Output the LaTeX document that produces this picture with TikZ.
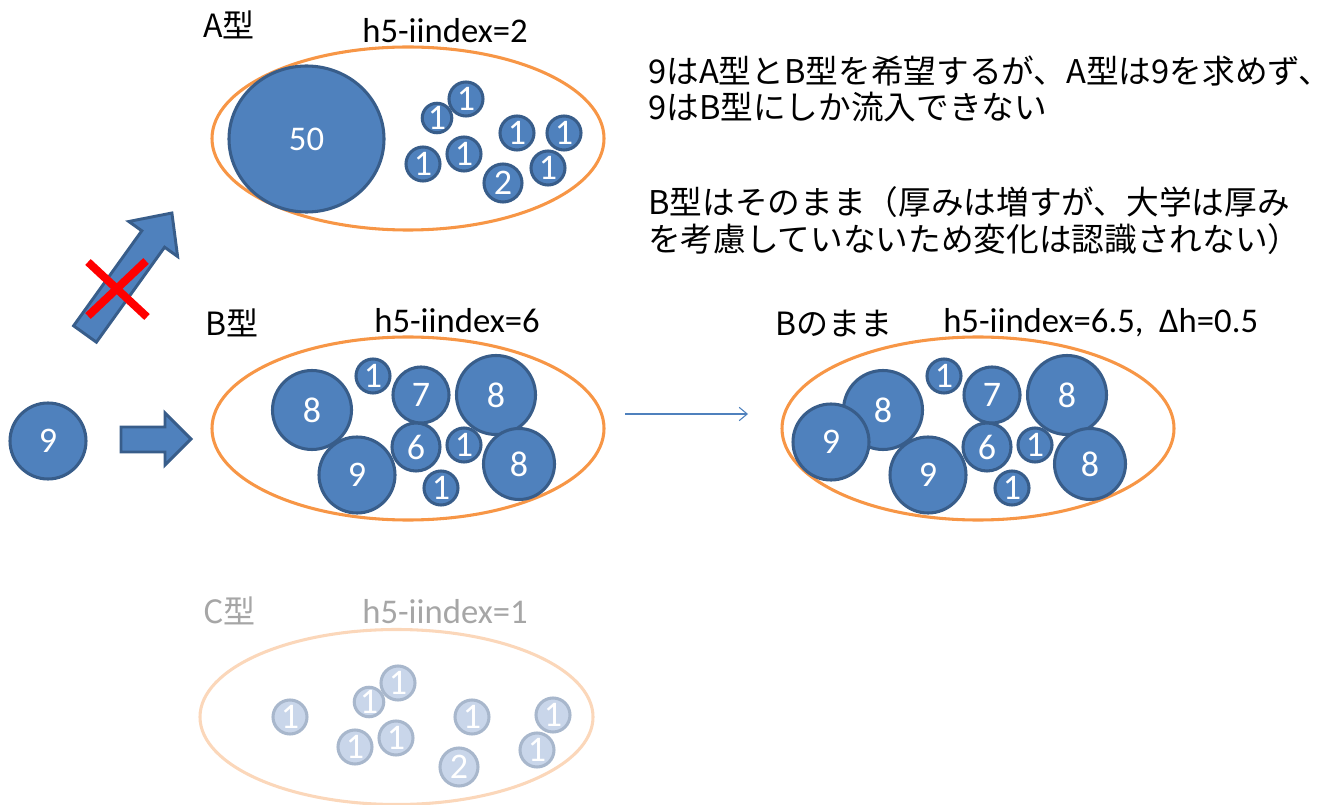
\documentclass[tikz,border=0pt]{standalone}
\usepackage{fontspec}
\setmainfont{Carlito}
\newfontfamily\jpf{Noto Sans CJK JP}
\usetikzlibrary{shapes.geometric,arrows.meta}
\definecolor{bf}{HTML}{4F81BD}
\definecolor{bd}{HTML}{385D8A}
\definecolor{org}{HTML}{F79646}
\definecolor{cf}{HTML}{C9D6EA}
\definecolor{cd}{HTML}{A8B7CC}
\definecolor{corg}{HTML}{FBD7BA}
\definecolor{gtx}{HTML}{A6A6A6}
\begin{document}
\begin{tikzpicture}[x=0.75pt,y=-0.75pt,
  ball/.style={circle,draw=bd,fill=bf,line width=2.3pt,text=white,inner sep=0pt,
    font=\fontsize{27}{27}\selectfont,minimum size=#1*1.5pt},
  fball/.style={ball=#1,draw=cd,fill=cf},
  group/.style={ellipse,draw=org,line width=2.3pt,minimum width=392*0.75pt,minimum height=183*0.75pt},
  lbl/.style={anchor=base west,inner sep=0pt,font=\jpf\fontsize{24}{24}\selectfont},
  hidx/.style={anchor=base,inner sep=0pt,font=\fontsize{26}{26}\selectfont},
  note/.style={anchor=base west,inner sep=0pt,font=\jpf\fontsize{24.5}{24.5}\selectfont},
  blockarrow/.style={fill=bf,draw=bd,line width=2.2pt,line join=miter},
  cross/.style={draw=red,line width=6pt}
]
\useasboundingbox (0,0) rectangle (1341,805);

% ---------- A ----------
\node[group] (A) at (408,138.5) {};
\node[lbl] (tA) at (203,38) {A型};
\node[hidx] (hA) at (445,43) {h5-iindex=2};
\node[ellipse,draw=bd,fill=bf,line width=2.3pt,text=white,inner sep=0pt,
  minimum width=155*0.75pt,minimum height=146*0.75pt,font=\fontsize{26}{26}\selectfont] (a50) at (306.5,139) {50};
\node[ball=17] (a1) at (466,99) {1};
\node[ball=14] (a2) at (437,118) {1};
\node[ball=17] (a3) at (517,133) {1};
\node[ball=17] (a4) at (564,133) {1};
\node[ball=17] (a5) at (423,164) {1};
\node[ball=17] (a6) at (464,154) {1};
\node[ball=19] (a7) at (503,183) {2};
\node[ball=17] (a8) at (548,168) {1};

% ---------- B ----------
\node[group] (B) at (408,428.5) {};
\node[lbl] (tB) at (205,335) {B型};
\node[hidx] (hB) at (457,333) {h5-iindex=6};
\node[ball=39.5] (b8a) at (312,410) {8};
\node[ball=38] (b9) at (357,475) {9};
\node[ball=17] (b1a) at (373,376) {1};
\node[ball=28] (b7) at (421,395) {7};
\node[ball=24] (b6) at (416,447) {6};
\node[ball=39.5] (b8b) at (496,395) {8};
\node[ball=35.5] (b8c) at (519,464) {8};
\node[ball=17] (b1b) at (464,445) {1};
\node[ball=17] (b1c) at (441,488) {1};

% ---------- B after ----------
\node[group] (Bp) at (978,428.5) {};
\node[lbl] (tBp) at (775,335) {Bのまま};
\node[anchor=base west,inner sep=0pt,font=\fontsize{26}{26}\selectfont] (hBp) at (943,333) {h5-iindex=6.5,\ \ Δh=0.5};
\node[ball=39.5] (p8a) at (883,410) {8};
\node[ball=38] (p9a) at (831,442) {9};
\node[ball=38] (p9) at (928,475) {9};
\node[ball=17] (p1a) at (944,376) {1};
\node[ball=28] (p7) at (992,395) {7};
\node[ball=24] (p6) at (987,447) {6};
\node[ball=39.5] (p8b) at (1067,395) {8};
\node[ball=35.5] (p8c) at (1090,464) {8};
\node[ball=17] (p1b) at (1035,445) {1};
\node[ball=17] (p1c) at (1012,488) {1};

\coordinate (s) at (625,414);
\coordinate (e) at (748,414);
\draw[bf,line width=0.8pt,-{Straight Barb[length=6pt,width=10pt]}] (s) -- (e);

% ---------- C (faded) ----------
\node[group,draw=corg,minimum width=393*0.75pt,minimum height=175*0.75pt] (C) at (396.5,717) {};
\node[lbl,text=gtx] (tC) at (203,623) {C型};
\node[hidx,text=gtx] (hC) at (445,623) {h5-iindex=1};
\node[fball=17] (c1) at (290,717) {1};
\node[fball=14] (c2) at (369,702) {1};
\node[fball=17] (c3) at (398,683) {1};
\node[fball=17] (c4) at (355,747) {1};
\node[fball=17] (c5) at (396,738) {1};
\node[fball=17] (c6) at (472,717) {1};
\node[fball=17] (c7) at (553,715) {1};
\node[fball=17] (c8) at (537,750) {1};
\node[fball=19] (c9) at (459,767) {2};

% ---------- left: 9 and arrows ----------
\node[ball=38] (n9) at (48,441) {9};
\draw[blockarrow] (121,427) -- (165,427) -- (165,413) -- (191,439) -- (165,465) -- (165,452) -- (121,452) -- cycle;
\draw[blockarrow] (96.4,342.2) -- (164.6,247.2) -- (177.6,256.5) -- (171.9,213) -- (128.8,221.5) -- (141.8,230.8) -- (73.6,325.8) -- cycle;
\draw[cross] (88,262) -- (147,317);
\draw[cross] (146,261) -- (88,316);

% ---------- notes ----------
\node[note] (t1) at (648,84) {9はA型とB型を希望するが、A型は9を求めず、};
\node[note] (t2) at (648,120) {9はB型にしか流入できない};
\node[note] (t3) at (648,215) {B型はそのまま（厚みは増すが、大学は厚み};
\node[note] (t4) at (648,252) {を考慮していないため変化は認識されない）};
\end{tikzpicture}
\end{document}
